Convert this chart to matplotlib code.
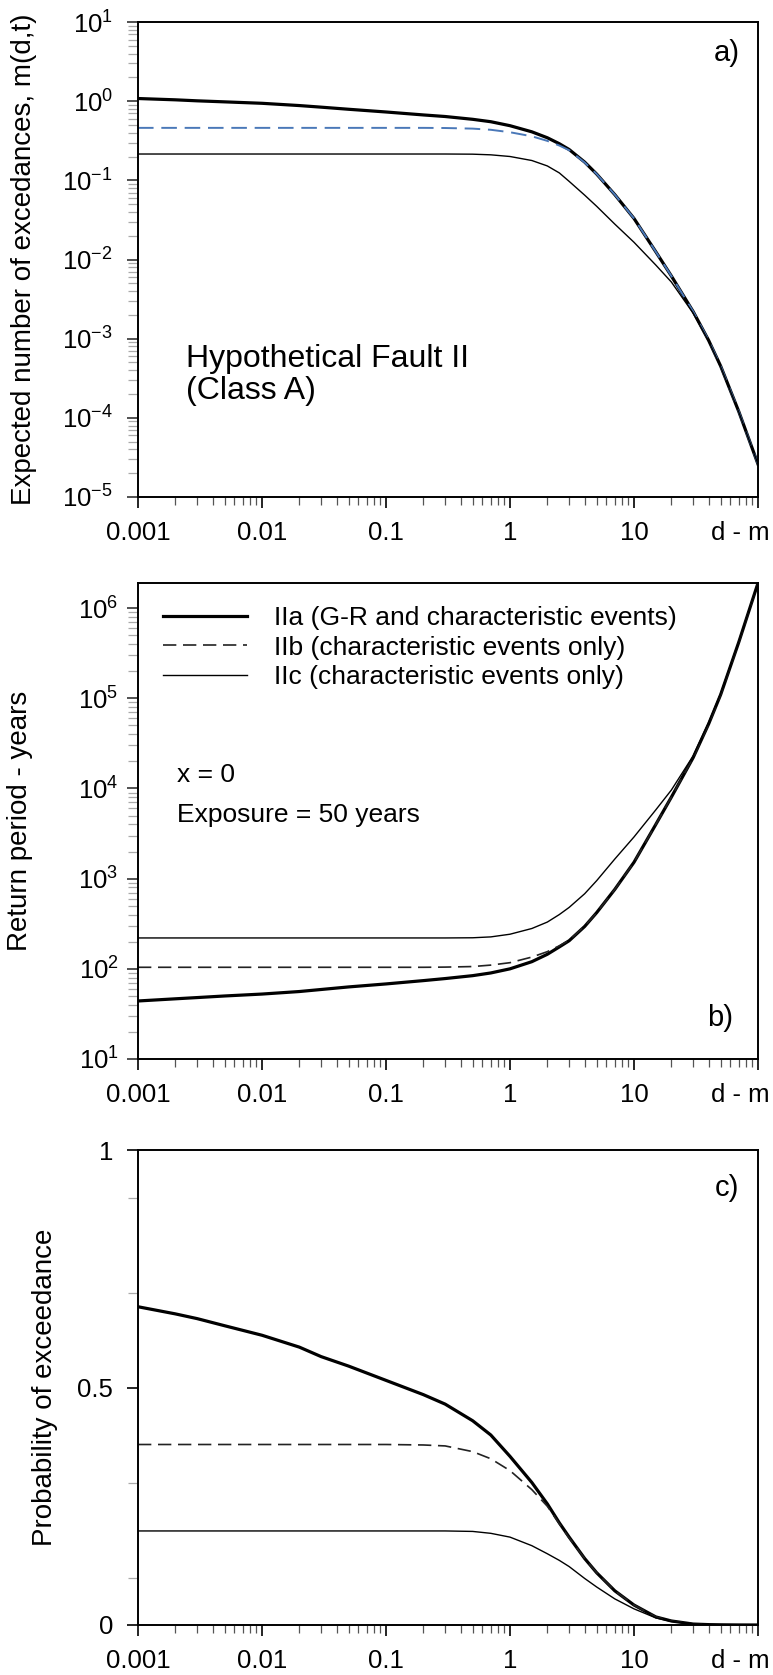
import matplotlib
matplotlib.use("Agg")
import matplotlib.pyplot as plt
import matplotlib.transforms as mtransforms
from matplotlib.ticker import LogLocator, LogFormatterMathtext, NullFormatter, FixedLocator

plt.rcParams['font.family'] = ['Liberation Sans', 'DejaVu Sans']
plt.rcParams['mathtext.fontset'] = 'custom'
plt.rcParams['mathtext.rm'] = 'Liberation Sans'
plt.rcParams['mathtext.default'] = 'regular'

# distancia d (m), eje x comun
x_d = [0.001, 0.002, 0.003, 0.005, 0.01, 0.02, 0.03, 0.05, 0.1, 0.2, 0.3, 0.5, 0.7, 1,
       1.5, 2, 2.5, 3, 4, 5, 7, 10, 15, 20, 30, 40, 50, 70, 100]

# a) numero esperado de excedencias m(d,t)
m_IIa = [1.08, 1.04, 1.01, 0.98, 0.94, 0.88, 0.84, 0.79, 0.73, 0.67, 0.64, 0.59, 0.55, 0.49,
         0.41, 0.345, 0.29, 0.245, 0.17, 0.12, 0.066, 0.033, 0.0125, 0.0062, 0.0022, 0.00095,
         0.00045, 0.00012, 2.6e-5]
m_IIb = [0.46, 0.46, 0.46, 0.46, 0.46, 0.46, 0.46, 0.46, 0.46, 0.46, 0.458, 0.45, 0.435, 0.405,
         0.36, 0.315, 0.275, 0.24, 0.168, 0.12, 0.066, 0.033, 0.0125, 0.0062, 0.0022, 0.00095,
         0.00045, 0.00012, 2.6e-5]
m_IIc = [0.215, 0.215, 0.215, 0.215, 0.215, 0.215, 0.215, 0.215, 0.215, 0.215, 0.215, 0.214, 0.21, 0.20,
         0.178, 0.152, 0.124, 0.097, 0.065, 0.047, 0.028, 0.0165, 0.0085, 0.0052, 0.0021, 0.00093,
         0.00044, 0.000118, 2.6e-5]

# b) periodo de retorno (anios)
T_IIa = [44, 46.5, 48, 50, 52.5, 56, 59, 63, 68, 74, 78, 84, 90, 100,
         120, 145, 175, 205, 295, 420, 760, 1520, 4000, 8000, 22000, 52000,
         1.1e5, 4.2e5, 1.9e6]
T_IIb = [104, 104, 104, 104, 104, 104, 104, 104, 104, 104, 104.5, 106, 110, 117,
         135, 155, 180, 208, 298, 420, 760, 1520, 4000, 8000, 22000, 52000,
         1.1e5, 4.2e5, 1.9e6]
T_IIc = [220, 220, 220, 220, 220, 220, 220, 220, 220, 220, 220, 221, 226, 242,
         280, 330, 400, 480, 680, 950, 1650, 2900, 5800, 9600, 23000, 54000,
         1.13e5, 4.25e5, 1.9e6]

# c) probabilidad de excedencia
P_IIa = [0.67, 0.655, 0.645, 0.63, 0.61, 0.585, 0.565, 0.545, 0.515, 0.485, 0.465, 0.43, 0.40, 0.355,
         0.30, 0.255, 0.215, 0.185, 0.14, 0.11, 0.072, 0.042, 0.017, 0.0085, 0.002, 0.0008,
         0.0004, 0.0001, 0.0]
P_IIb = [0.38, 0.38, 0.38, 0.38, 0.38, 0.38, 0.38, 0.38, 0.38, 0.379, 0.377, 0.365, 0.35, 0.325,
         0.285, 0.25, 0.213, 0.183, 0.14, 0.11, 0.072, 0.042, 0.017, 0.0085, 0.002, 0.0008,
         0.0004, 0.0001, 0.0]
P_IIc = [0.198, 0.198, 0.198, 0.198, 0.198, 0.198, 0.198, 0.198, 0.198, 0.198, 0.198, 0.197, 0.193, 0.185,
         0.167, 0.15, 0.136, 0.123, 0.098, 0.08, 0.055, 0.034, 0.015, 0.0075, 0.0025, 0.0009,
         0.0004, 0.0001, 0.0]

labels = ['IIa (G-R and characteristic events)',
          'IIb (characteristic events only)',
          'IIc (characteristic events only)']
xticks = [0.001, 0.01, 0.1, 1, 10, 100]
xticklabels = ['0.001', '0.01', '0.1', '1', '10', 'd - m']
pticks = [0, 0.5, 1]
pticklabels = ['0', '0.5', '1']
pminor = [0.1, 0.3, 0.7, 0.9]

W, H = 773, 1675
fig = plt.figure(figsize=(W / 100, H / 100), dpi=100)


def caja(top, bottom):
    return [138 / W, 1 - bottom / H, 620 / W, (bottom - top) / H]


ax_a = fig.add_axes(caja(22, 497))
ax_b = fig.add_axes(caja(583, 1059))
ax_c = fig.add_axes(caja(1150, 1625))


def estilo_x(ax):
    ax.set_xscale('log')
    ax.set_xlim(0.001, 100)
    ax.set_xticks(xticks)
    ax.set_xticklabels(xticklabels)
    ax.xaxis.set_minor_locator(LogLocator(base=10, subs=range(2, 10), numticks=20))
    ax.xaxis.set_minor_formatter(NullFormatter())
    ax.tick_params(axis='x', which='major', direction='out', length=8, width=1.2,
                   labelsize=18.5, pad=9, top=False)
    ax.tick_params(axis='x', which='minor', direction='out', length=6, width=0.9,
                   color='#555555', top=False)
    # "d - m" corrido hacia la izquierda
    lab = ax.get_xticklabels()[-1]
    lab.set_transform(lab.get_transform() + mtransforms.ScaledTranslation(-18 / 100, 0, fig.dpi_scale_trans))
    for s in ax.spines.values():
        s.set_linewidth(1.4)


def estilo_ylog(ax, pad):
    ax.set_yscale('log')
    ax.yaxis.set_major_locator(LogLocator(base=10, numticks=20))
    ax.yaxis.set_major_formatter(LogFormatterMathtext())
    ax.yaxis.set_minor_locator(LogLocator(base=10, subs=range(2, 10), numticks=20))
    ax.yaxis.set_minor_formatter(NullFormatter())
    ax.tick_params(axis='y', which='major', direction='out', length=8, width=1.2,
                   labelsize=18.5, pad=pad, right=False, color='#333333')
    ax.tick_params(axis='y', which='minor', direction='out', length=7, width=0.9,
                   color='#aaaaaa', right=False)


# ---- a)
ax_a.plot(x_d, m_IIa, color='black', lw=2.3)
ax_a.plot(x_d, m_IIb, color='#4a78b8', lw=1.4, dashes=(8, 4))
ax_a.plot(x_d, m_IIc, color='black', lw=1.0)
estilo_ylog(ax_a, 10)
ax_a.set_ylim(1e-5, 1e1)
estilo_x(ax_a)
ax_a.set_ylabel('Expected number of excedances, m(d,t)', fontsize=20)
ax_a.yaxis.set_label_coords(-0.163, 0.5)
ax_a.text(0.95, 0.935, 'a)', transform=ax_a.transAxes, fontsize=21, ha='center', va='center')
ax_a.text(0.078, 0.257, 'Hypothetical Fault II\n(Class A)', transform=ax_a.transAxes,
          fontsize=23, ha='left', va='center', linespacing=1.1)

# ---- b)
ax_b.plot(x_d, T_IIa, color='black', lw=2.3, label=labels[0])
ax_b.plot(x_d, T_IIb, color='#222222', lw=1.2, dashes=(8, 4), label=labels[1])
ax_b.plot(x_d, T_IIc, color='black', lw=1.0, label=labels[2])
ax_b.axvline(100, color='#444444', lw=1.0, ls=':')
estilo_ylog(ax_b, 6)
ax_b.set_ylim(10, 1.9e6)
estilo_x(ax_b)
ax_b.set_ylabel('Return period - years', fontsize=20)
ax_b.yaxis.set_label_coords(-0.169, 0.5)
ax_b.legend(loc='upper left', bbox_to_anchor=(0.040, 0.951), frameon=False, fontsize=19,
            handlelength=3.2, handletextpad=1.0, labelspacing=0.2, borderpad=0, borderaxespad=0)
ax_b.text(0.063, 0.597, 'x = 0', transform=ax_b.transAxes, fontsize=19, ha='left', va='center')
ax_b.text(0.063, 0.513, 'Exposure = 50 years', transform=ax_b.transAxes, fontsize=19,
          ha='left', va='center')
ax_b.text(0.939, 0.086, 'b)', transform=ax_b.transAxes, fontsize=21, ha='center', va='center')

# ---- c)
ax_c.plot(x_d, P_IIa, color='black', lw=2.3)
ax_c.plot(x_d, P_IIb, color='#222222', lw=1.2, dashes=(8, 4))
ax_c.plot(x_d, P_IIc, color='black', lw=1.0)
ax_c.set_ylim(0, 1)
ax_c.set_yticks(pticks)
ax_c.set_yticklabels(pticklabels)
ax_c.yaxis.set_minor_locator(FixedLocator(pminor))
ax_c.tick_params(axis='y', which='major', direction='out', length=8, width=1.2,
                 labelsize=18.5, pad=10, right=False)
ax_c.tick_params(axis='y', which='minor', direction='out', length=7, width=0.9,
                 color='#aaaaaa', right=False)
estilo_x(ax_c)
ax_c.set_ylabel('Probability of exceedance', fontsize=20)
ax_c.yaxis.set_label_coords(-0.129, 0.5)
ax_c.text(0.95, 0.92, 'c)', transform=ax_c.transAxes, fontsize=21, ha='center', va='center')

fig.savefig('out.png', dpi=100)
